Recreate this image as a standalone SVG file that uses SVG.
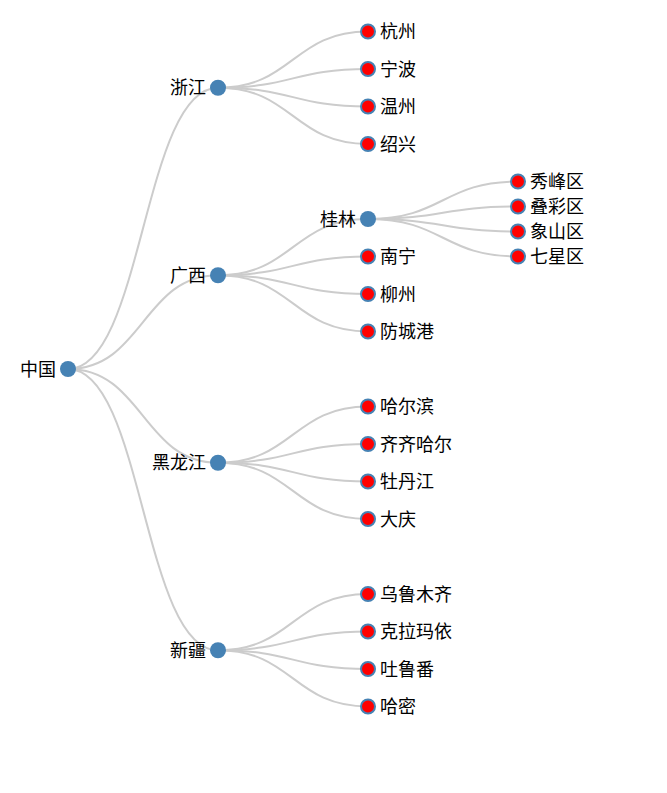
<svg xmlns="http://www.w3.org/2000/svg" width="667" height="793" viewBox="0 0 667 793">
<style>
.link{fill:none;stroke:#ccc;stroke-width:2}
.inner circle{fill:#4682b4}
.leaf circle{fill:#ff0000;stroke:#4682b4;stroke-width:2}
text{font-family:"Noto Sans CJK SC","Microsoft YaHei",sans-serif;font-size:18px;fill:#000;dominant-baseline:central}
.inner text{text-anchor:end}
.leaf text{text-anchor:start}
</style>
<rect width="667" height="793" fill="#fff"/>
<g id="links">
<path class="link" d="M68,369C143,369 143,87.75 218,87.75"/>
<path class="link" d="M68,369C143,369 143,275.25 218,275.25"/>
<path class="link" d="M68,369C143,369 143,462.75 218,462.75"/>
<path class="link" d="M68,369C143,369 143,650.25 218,650.25"/>
<path class="link" d="M218,87.75C293,87.75 293,31.5 368,31.5"/>
<path class="link" d="M218,87.75C293,87.75 293,69 368,69"/>
<path class="link" d="M218,87.75C293,87.75 293,106.5 368,106.5"/>
<path class="link" d="M218,87.75C293,87.75 293,144 368,144"/>
<path class="link" d="M218,275.25C293,275.25 293,219 368,219"/>
<path class="link" d="M218,275.25C293,275.25 293,256.5 368,256.5"/>
<path class="link" d="M218,275.25C293,275.25 293,294 368,294"/>
<path class="link" d="M218,275.25C293,275.25 293,331.5 368,331.5"/>
<path class="link" d="M218,462.75C293,462.75 293,406.5 368,406.5"/>
<path class="link" d="M218,462.75C293,462.75 293,444 368,444"/>
<path class="link" d="M218,462.75C293,462.75 293,481.5 368,481.5"/>
<path class="link" d="M218,462.75C293,462.75 293,519 368,519"/>
<path class="link" d="M218,650.25C293,650.25 293,594 368,594"/>
<path class="link" d="M218,650.25C293,650.25 293,631.5 368,631.5"/>
<path class="link" d="M218,650.25C293,650.25 293,669 368,669"/>
<path class="link" d="M218,650.25C293,650.25 293,706.5 368,706.5"/>
<path class="link" d="M368,219C443,219 443,181.5 518,181.5"/>
<path class="link" d="M368,219C443,219 443,206.5 518,206.5"/>
<path class="link" d="M368,219C443,219 443,231.5 518,231.5"/>
<path class="link" d="M368,219C443,219 443,256.5 518,256.5"/>
</g>
<g id="n-zhongguo" class="inner" transform="translate(68,369)"><circle r="8"/><text x="-12" y="-1.5">中国</text></g>
<g id="n-zhejiang" class="inner" transform="translate(218,87.75)"><circle r="8"/><text x="-12" y="-1.5">浙江</text></g>
<g id="n-guangxi" class="inner" transform="translate(218,275.25)"><circle r="8"/><text x="-12" y="-1.5">广西</text></g>
<g id="n-heilongjiang" class="inner" transform="translate(218,462.75)"><circle r="8"/><text x="-12" y="-1.5">黑龙江</text></g>
<g id="n-xinjiang" class="inner" transform="translate(218,650.25)"><circle r="8"/><text x="-12" y="-1.5">新疆</text></g>
<g id="n-guilin" class="inner" transform="translate(368,219)"><circle r="8"/><text x="-12" y="-1.5">桂林</text></g>
<g id="n-hangzhou" class="leaf" transform="translate(368,31.5)"><circle r="7"/><text x="12" y="-1.5">杭州</text></g>
<g id="n-ningbo" class="leaf" transform="translate(368,69)"><circle r="7"/><text x="12" y="-1.5">宁波</text></g>
<g id="n-wenzhou" class="leaf" transform="translate(368,106.5)"><circle r="7"/><text x="12" y="-1.5">温州</text></g>
<g id="n-shaoxing" class="leaf" transform="translate(368,144)"><circle r="7"/><text x="12" y="-1.5">绍兴</text></g>
<g id="n-nanning" class="leaf" transform="translate(368,256.5)"><circle r="7"/><text x="12" y="-1.5">南宁</text></g>
<g id="n-liuzhou" class="leaf" transform="translate(368,294)"><circle r="7"/><text x="12" y="-1.5">柳州</text></g>
<g id="n-fangchenggang" class="leaf" transform="translate(368,331.5)"><circle r="7"/><text x="12" y="-1.5">防城港</text></g>
<g id="n-haerbin" class="leaf" transform="translate(368,406.5)"><circle r="7"/><text x="12" y="-1.5">哈尔滨</text></g>
<g id="n-qiqihaer" class="leaf" transform="translate(368,444)"><circle r="7"/><text x="12" y="-1.5">齐齐哈尔</text></g>
<g id="n-mudanjiang" class="leaf" transform="translate(368,481.5)"><circle r="7"/><text x="12" y="-1.5">牡丹江</text></g>
<g id="n-daqing" class="leaf" transform="translate(368,519)"><circle r="7"/><text x="12" y="-1.5">大庆</text></g>
<g id="n-wulumuqi" class="leaf" transform="translate(368,594)"><circle r="7"/><text x="12" y="-1.5">乌鲁木齐</text></g>
<g id="n-kelamayi" class="leaf" transform="translate(368,631.5)"><circle r="7"/><text x="12" y="-1.5">克拉玛依</text></g>
<g id="n-tulufan" class="leaf" transform="translate(368,669)"><circle r="7"/><text x="12" y="-1.5">吐鲁番</text></g>
<g id="n-hami" class="leaf" transform="translate(368,706.5)"><circle r="7"/><text x="12" y="-1.5">哈密</text></g>
<g id="n-xiufeng" class="leaf" transform="translate(518,181.5)"><circle r="7"/><text x="12" y="-1.5">秀峰区</text></g>
<g id="n-diecai" class="leaf" transform="translate(518,206.5)"><circle r="7"/><text x="12" y="-1.5">叠彩区</text></g>
<g id="n-xiangshan" class="leaf" transform="translate(518,231.5)"><circle r="7"/><text x="12" y="-1.5">象山区</text></g>
<g id="n-qixing" class="leaf" transform="translate(518,256.5)"><circle r="7"/><text x="12" y="-1.5">七星区</text></g>
</svg>
